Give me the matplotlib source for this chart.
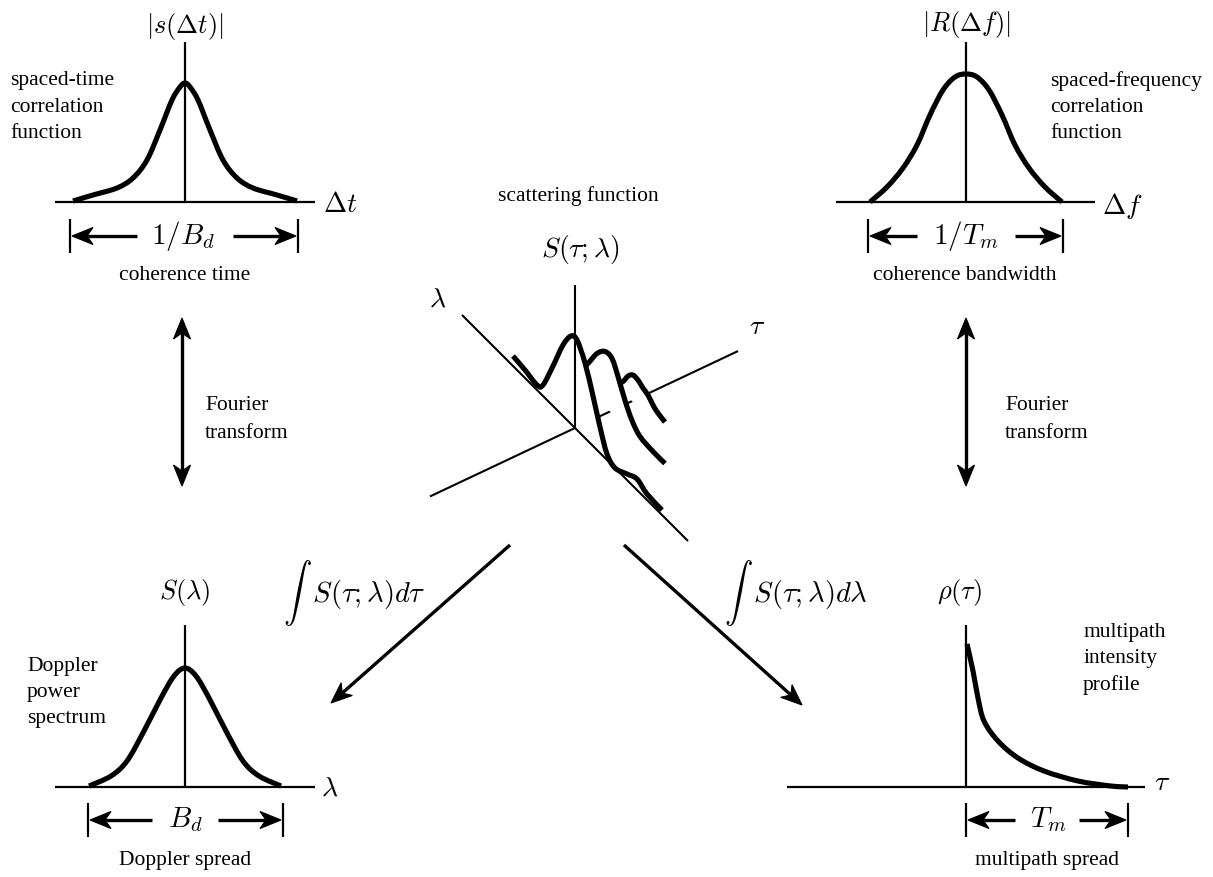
import numpy as np
import matplotlib
matplotlib.use("Agg")
import matplotlib.pyplot as plt
from matplotlib.path import Path
from matplotlib.patches import PathPatch, Polygon

plt.rcParams["font.family"] = ["Liberation Serif", "DejaVu Serif"]
plt.rcParams["mathtext.fontset"] = "cm"

# ---- curve samples (offset from the panel's vertical axis, height above baseline) ----
# spaced-time correlation |s(Δt)|
st_dx = [-112, -92, -68, -52, -38, -25, -13, -5, 0, 5, 13, 25, 38, 52, 68, 92, 112]
st_h = [1, 7, 14, 24, 42, 72, 102, 115, 119, 115, 102, 72, 42, 24, 14, 7, 1]

# spaced-frequency correlation |R(Δf)|
sf_dx = [-96, -79, -63, -49, -36, -23, -11, 0, 11, 23, 36, 49, 63, 79, 96]
sf_h = [0, 15, 34, 57, 87, 112, 125, 128, 125, 112, 87, 57, 34, 15, 0]

# Doppler power spectrum S(λ)
dp_dx = [-96, -74, -58, -41, -24, -11, 0, 11, 24, 41, 58, 74, 96]
dp_h = [1, 11, 26, 56, 89, 111, 119, 111, 89, 56, 26, 11, 1]

# multipath intensity profile ρ(τ)
mp_dx = [1, 7, 12, 18, 32, 52, 78, 112, 145, 162]
mp_h = [143, 116, 89, 66, 46, 29, 16, 6, 1, 0]

# scattering function slices: position along λ and height, one slice per τ
slice_tau = [0, 35, 57]
slice1_lam = [62, 50, 38, 32, 22, 12, 4, -2, -10, -18, -25, -32, -40, -52, -62, -72, -87]
slice1_h = [10, 8, 5, 11, 40, 71, 88, 90, 75, 50, 26, 6, 0, 6, 11, 6, 5]
slice2_lam = [30, 22, 13, 5, -2, -8, -15, -22, -30, -43, -55]
slice2_h = [10, 26, 45, 55, 55, 43, 26, 13, 5, 3, 3]
slice3_lam = [18, 10, 4, -1, -6, -11, -16, -21, -26, -33]
slice3_h = [2, 9, 21, 27, 27, 24, 22, 17, 14, 12]

# ---- figure in pixel coordinates (y grows downward) ----
W, H = 1213, 877
fig = plt.figure(figsize=(W / 100, H / 100), dpi=100)
ax = fig.add_axes([0, 0, 1, 1])
ax.set_xlim(0, W)
ax.set_ylim(H, 0)
ax.axis("off")

AX_LW = 1.6
CURVE_LW = 3.7
ARROW_LW = 2.4
TXT = 15.5
MATH = 19


def smooth_path(xs, ys, closed_to=None):
    """Catmull-Rom spline through the points, as cubic Bezier segments."""
    p = np.column_stack([xs, ys]).astype(float)
    ext = np.vstack([p[0], p, p[-1]])
    verts = [p[0]]
    codes = [Path.MOVETO]
    for i in range(1, len(ext) - 2):
        p0, p1, p2, p3 = ext[i - 1], ext[i], ext[i + 1], ext[i + 2]
        verts += [p1 + (p2 - p0) / 6, p2 - (p3 - p1) / 6, p2]
        codes += [Path.CURVE4] * 3
    if closed_to is not None:
        for q in closed_to:
            verts.append(q)
            codes.append(Path.LINETO)
        verts.append(p[0])
        codes.append(Path.CLOSEPOLY)
    return Path(verts, codes)


def line(x0, y0, x1, y1, lw=AX_LW, z=2):
    ax.plot([x0, x1], [y0, y1], color="black", lw=lw, solid_capstyle="butt", zorder=z)


def arrow_head(tip, direction, L=21, Wd=8.5, notch=6, z=5):
    d = np.asarray(direction, float)
    d /= np.hypot(*d)
    n = np.array([-d[1], d[0]])
    t = np.asarray(tip, float)
    pts = [t, t - L * d + Wd * n, t - (L - notch) * d, t - L * d - Wd * n]
    ax.add_patch(Polygon(pts, closed=True, facecolor="black", edgecolor="black",
                         lw=0.8, zorder=z))
    return t - (L - notch) * d


def arrow(x0, y0, x1, y1, lw=ARROW_LW, both=False):
    base1 = arrow_head((x1, y1), (x1 - x0, y1 - y0))
    start = (x0, y0)
    if both:
        start = arrow_head((x0, y0), (x0 - x1, y0 - y1))
    line(start[0], start[1], base1[0], base1[1], lw=lw)


def curve(cx, cy, dx, h):
    xs = cx + np.asarray(dx, float)
    ys = cy - np.asarray(h, float)
    ax.add_patch(PathPatch(smooth_path(xs, ys), fill=False, lw=CURVE_LW,
                           edgecolor="black", capstyle="butt", zorder=3))


def dimension(xl, xr, y, label, lx, gap_l, gap_r, size=21):
    line(xl, y - 17, xl, y + 17, lw=AX_LW)
    line(xr, y - 17, xr, y + 17, lw=AX_LW)
    arrow(gap_l, y, xl + 2, y)
    arrow(gap_r, y, xr - 2, y)
    ax.text(lx, y, label, fontsize=size, ha="center", va="center")


# ---- top left: spaced-time correlation ----
cx, cy = 185, 202
line(55, cy, 315, cy)
line(cx, 42, cx, cy)
curve(cx, cy, st_dx, st_h)
ax.text(cx, 26, r"$|s(\Delta t)|$", fontsize=MATH, ha="center", va="center")
ax.text(340, 206, r"$\Delta t$", fontsize=MATH + 1, ha="center", va="center")
for i, s in enumerate(["spaced-time", "correlation", "function"]):
    ax.text(10, 81 + 26 * i, s, fontsize=TXT, ha="left", va="center")
dimension(70, 298, 236, r"$1/B_d$", 183, 137, 233)
ax.text(185, 276, "coherence time", fontsize=TXT, ha="center", va="center")

# ---- top right: spaced-frequency correlation ----
cx, cy = 966, 202
line(836, cy, 1095, cy)
line(cx, 42, cx, cy)
curve(cx, cy, sf_dx, sf_h)
ax.text(cx, 25, r"$|R(\Delta f)|$", fontsize=MATH, ha="center", va="center")
ax.text(1122, 206, r"$\Delta f$", fontsize=MATH + 1, ha="center", va="center")
for i, s in enumerate(["spaced-frequency", "correlation", "function"]):
    ax.text(1050, 81 + 26 * i, s, fontsize=TXT, ha="left", va="center")
dimension(868, 1063, 236, r"$1/T_m$", 966, 917, 1015)
ax.text(965, 276, "coherence bandwidth", fontsize=TXT, ha="center", va="center")

# ---- bottom left: Doppler power spectrum ----
cx, cy = 185, 787
line(55, cy, 315, cy)
line(cx, 625, cx, cy)
curve(cx, cy, dp_dx, dp_h)
ax.text(cx, 592, r"$S(\lambda)$", fontsize=MATH, ha="center", va="center")
ax.text(330, 789, r"$\lambda$", fontsize=MATH + 1, ha="center", va="center")
for i, s in enumerate(["Doppler", "power", "spectrum"]):
    ax.text(27, 667 + 25.5 * i, s, fontsize=TXT, ha="left", va="center")
dimension(88, 283, 820, r"$B_d$", 185, 152, 218)
ax.text(185, 861, "Doppler spread", fontsize=TXT, ha="center", va="center")

# ---- bottom right: multipath intensity profile ----
cx, cy = 966, 787
line(787, cy, 1145, cy)
line(cx, 625, cx, cy)
curve(cx, cy, mp_dx, mp_h)
ax.text(960, 592, r"$\rho(\tau)$", fontsize=MATH, ha="center", va="center")
ax.text(1162, 784, r"$\tau$", fontsize=MATH + 1, ha="center", va="center")
for i, s in enumerate(["multipath", "intensity", "profile"]):
    ax.text(1083, 633 + 26 * i, s, fontsize=TXT, ha="left", va="center")
dimension(966, 1128, 820, r"$T_m$", 1048, 1015, 1079)
ax.text(1047, 861, "multipath spread", fontsize=TXT, ha="center", va="center")

# ---- Fourier transform links ----
for xa, xt in [(182, 205), (966, 1005)]:
    arrow(xa, 318, xa, 486, both=True)
    ax.text(xt, 406, "Fourier", fontsize=TXT, ha="left", va="center")
    ax.text(xt, 434, "transform", fontsize=TXT, ha="left", va="center")

# ---- integration links ----
arrow(510, 545, 331, 703)
arrow(624, 545, 802, 705)
ax.text(283, 593, r"$\int\;\; S(\tau;\lambda)d\tau$", fontsize=MATH + 1.5, ha="left", va="center")
ax.text(724, 593, r"$\int\;\; S(\tau;\lambda)d\lambda$", fontsize=MATH + 1.5, ha="left", va="center")

# ---- centre: scattering function in perspective ----
ox, oy = 575, 428
TAU_SLOPE = 0.472


def proj(lam, tau, h):
    lam = np.asarray(lam, float)
    h = np.asarray(h, float)
    return ox - lam + tau, oy - lam - TAU_SLOPE * tau - h


# axes: τ axis sits behind the slices, λ and vertical axes in front
tx0, ty0 = proj(0, -145, 0)
tx1, ty1 = proj(0, 163, 0)
line(tx0, ty0, tx1, ty1, lw=1.5, z=1)
lx0, ly0 = proj(113, 0, 0)
lx1, ly1 = proj(-113, 0, 0)
line(lx0, ly0, lx1, ly1, lw=1.5, z=10)
line(ox, 285, ox, oy, lw=1.5, z=10)

slices = [(slice_tau[2], slice3_lam, slice3_h),
          (slice_tau[1], slice2_lam, slice2_h),
          (slice_tau[0], slice1_lam, slice1_h)]
for k, (tau, lam, hh) in enumerate(slices):
    xs, ys = proj(lam, tau, hh)
    bx0, by0 = proj(lam[0], tau, 0)
    bx1, by1 = proj(lam[-1], tau, 0)
    z = 2 + 2 * k
    ax.add_patch(PathPatch(smooth_path(xs, ys, closed_to=[(bx1, by1), (bx0, by0)]),
                           facecolor="white", edgecolor="none", zorder=z))
    ax.add_patch(PathPatch(smooth_path(xs, ys), fill=False, lw=CURVE_LW,
                           edgecolor="black", capstyle="butt", zorder=z + 1))

ax.text(438, 300, r"$\lambda$", fontsize=MATH + 1, ha="center", va="center")
ax.text(757, 328, r"$\tau$", fontsize=MATH + 1, ha="center", va="center")
ax.text(578, 196, "scattering function", fontsize=TXT, ha="center", va="center")
ax.text(580, 250, r"$S(\tau;\lambda)$", fontsize=MATH + 1, ha="center", va="center")

fig.savefig("out.png", dpi=100, facecolor="white")
